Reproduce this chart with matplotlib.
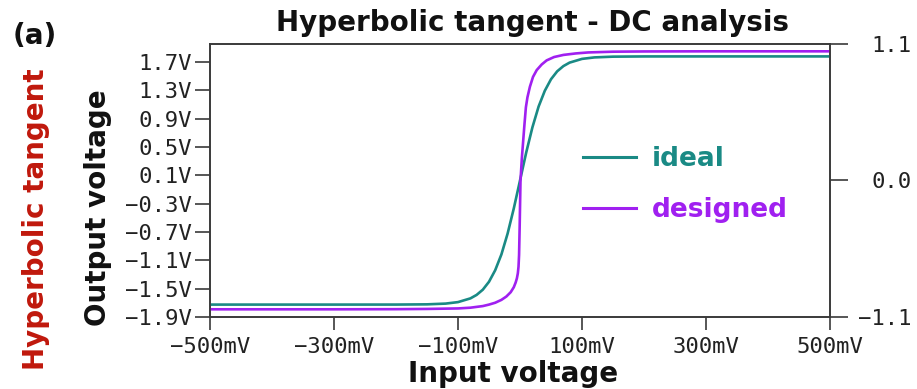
import matplotlib
matplotlib.use("Agg")
import matplotlib.pyplot as plt
from matplotlib.ticker import FixedLocator, FixedFormatter

# ---- data ----
ideal_x = [-500, -300, -200, -150, -120, -100, -80, -70, -60, -50, -40, -30, -20, -10,
           0, 10, 20, 30, 40, 50, 60, 70, 80, 100, 120, 150, 200, 300, 500]
ideal_y = [-1.000, -1.000, -0.9998, -0.998, -0.992, -0.980, -0.950, -0.922, -0.880, -0.816,
           -0.723, -0.596, -0.428, -0.225, 0.0, 0.225, 0.428, 0.596, 0.723, 0.816, 0.880,
           0.922, 0.950, 0.980, 0.992, 0.998, 0.9998, 1.000, 1.000]

designed_x = [-500, -300, -200, -150, -100, -80, -60, -50, -40, -30, -22, -15, -10, -7, -5,
              -3.5, -2.4, -1.5, -0.5, 0.8, 3, 5, 7, 9.5, 12, 16, 21, 27, 35, 43, 55, 70,
              90, 110, 150, 200, 300, 500]
designed_y = [-1.038, -1.038, -1.037, -1.035, -1.031, -1.025, -1.012, -1.0, -0.985, -0.962,
              -0.935, -0.9, -0.86, -0.822, -0.788, -0.748, -0.695, -0.6, -0.36, 0.0, 0.18,
              0.31, 0.44, 0.59, 0.67, 0.756, 0.835, 0.89, 0.935, 0.968, 0.995, 1.012,
              1.024, 1.032, 1.038, 1.04, 1.041, 1.041]

x_ticks = [-500, -300, -100, 100, 300, 500]
x_tick_labels = ["\u2212500mV", "\u2212300mV", "\u2212100mV", "100mV", "300mV", "500mV"]
left_ticks = [-1.9, -1.5, -1.1, -0.7, -0.3, 0.1, 0.5, 0.9, 1.3, 1.7]
left_tick_labels = ["\u22121.9V", "\u22121.5V", "\u22121.1V", "\u22120.7V", "\u22120.3V",
                    "0.1V", "0.5V", "0.9V", "1.3V", "1.7V"]
right_ticks = [-1.1, 0.0, 1.1]
right_tick_labels = ["\u22121.1", "0.0", "1.1"]

teal = "#1a8a85"
purple = "#a020f0"
red = "#c0180c"
spine_c = "#3a3a3a"

W, H = 917, 389
fig = plt.figure(figsize=(W / 100, H / 100), dpi=100)
ax = fig.add_axes([210 / W, 1 - 317 / H, 620 / W, 273 / H])
ax2 = ax.twinx()

ax.set_xlim(-500, 500)
ax.set_ylim(-1.9, 1.954)
ax2.set_ylim(-1.1, 1.1)

l1, = ax2.plot(ideal_x, ideal_y, color=teal, lw=1.9, label="ideal")
l2, = ax2.plot(designed_x, designed_y, color=purple, lw=1.9, label="designed")

mono = "DejaVu Sans Mono"
ax.xaxis.set_major_locator(FixedLocator(x_ticks))
ax.xaxis.set_major_formatter(FixedFormatter(x_tick_labels))
ax.yaxis.set_major_locator(FixedLocator(left_ticks))
ax.yaxis.set_major_formatter(FixedFormatter(left_tick_labels))
ax2.yaxis.set_major_locator(FixedLocator(right_ticks))
ax2.yaxis.set_major_formatter(FixedFormatter(right_tick_labels))

for a in (ax, ax2):
    for s in a.spines.values():
        s.set_color(spine_c)
        s.set_linewidth(1.2)

ax.tick_params(axis="x", direction="out", length=9.5, width=1.2, color=spine_c, pad=5,
               labelsize=16, labelcolor="#222222")
ax.tick_params(axis="y", direction="out", length=11, width=1.2, color=spine_c, pad=2,
               labelsize=16, labelcolor="#222222")
ax2.tick_params(axis="y", direction="out", length=13, width=1.2, color=spine_c, pad=46,
                labelsize=16, labelcolor="#222222")
for lab in ax.get_xticklabels() + ax.get_yticklabels():
    lab.set_fontfamily(mono)
for lab in ax2.get_yticklabels():
    lab.set_fontfamily(mono)
    lab.set_horizontalalignment("right")

leg = fig.legend(handles=[l1, l2], loc="center left",
                 bbox_to_anchor=(583 / W, 1 - 184.5 / H), frameon=False,
                 prop={"family": "DejaVu Sans", "weight": "bold", "size": 19},
                 handlelength=2.0, handletextpad=0.6, labelspacing=0.95,
                 borderpad=0, borderaxespad=0)
for txt, c in zip(leg.get_texts(), [teal, purple]):
    txt.set_color(c)
for h in leg.legend_handles:
    h.set_linewidth(2.2)

bold = dict(family="DejaVu Sans", weight="bold")
fig.text(532.5 / W, 1 - 31 / H, "Hyperbolic tangent - DC analysis", ha="center",
         va="baseline", size=20, color="#111111", **bold)
fig.text(13 / W, 1 - 44 / H, "(a)", ha="left", va="baseline", size=20, color="#111111", **bold)
fig.text(36 / W, 1 - 219 / H, "Hyperbolic tangent", rotation=90, ha="center", va="center",
         size=20, color=red, **bold)
fig.text(97.5 / W, 1 - 207.5 / H, "Output voltage", rotation=90, ha="center", va="center",
         size=20, color="#111111", **bold)
fig.text(513 / W, 1 - 382 / H, "Input voltage", ha="center", va="baseline", size=20,
         color="#111111", **bold)

fig.savefig("out.png", dpi=100)
